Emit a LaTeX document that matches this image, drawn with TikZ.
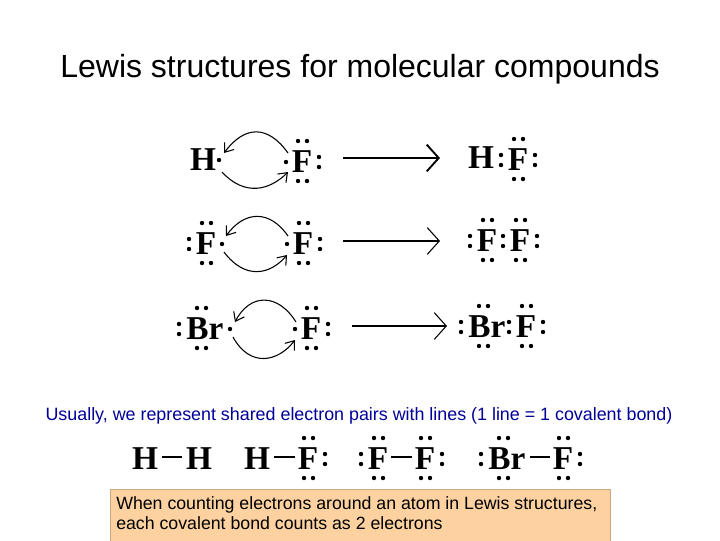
\documentclass[tikz,border=0pt]{standalone}
\usepackage{fontspec}
\setmainfont{Liberation Sans}
\newfontfamily\serifb{Liberation Serif}
\usetikzlibrary{arrows.meta}
\newcommand{\dt}[3]{\fill ([shift={(#2,#3)}]#1.center) circle[radius=2.2];}
\newcommand{\tp}[1]{\dt{#1}{-4}{-21}\dt{#1}{5}{-21}}
\newcommand{\bt}[1]{\dt{#1}{-4}{19}\dt{#1}{5}{19}}
\newcommand{\lf}[1]{\dt{#1}{-17}{-5}\dt{#1}{-17}{5}}
\newcommand{\rt}[1]{\dt{#1}{17}{-5}\dt{#1}{17}{5}}
\newcommand{\lone}[1]{\dt{#1}{-16}{0}}
\newcommand{\rone}[1]{\dt{#1}{16}{0}}
\newcommand{\brd}[1]{\dt{#1}{-8}{-21}\dt{#1}{1}{-21}\dt{#1}{-8}{19}\dt{#1}{1}{19}\dt{#1}{-26}{-5}\dt{#1}{-26}{5}}
\begin{document}
\begin{tikzpicture}[x=0.75pt,y=-0.75pt,
  atom/.style={font=\serifb\bfseries\fontsize{25}{25}\selectfont,inner sep=0pt},
  rx/.style={-{Straight Barb[length=9,width=20]},line width=0.8},
  cv/.style={-{Straight Barb[length=6,width=9]},line width=0.8},
  bond/.style={line width=1.2}]
\useasboundingbox (0,0) rectangle (720,540);
\fill[white] (0,0) rectangle (720,540);
\node[font=\fontsize{24}{24}\selectfont] (title) at (360,69) {Lewis structures for molecular compounds};
% row 1
\node[atom] (h1) at (203,160) {H}; \rone{h1}
\node[atom] (f1) at (302,162) {F}; \tp{f1}\bt{f1}\rt{f1}\lone{f1}
\draw[cv] (288,153) .. controls (268,125) and (245,125) .. (224,153);
\draw[cv] (222,172) .. controls (245,197) and (270,190) .. (288,172);
\coordinate (a1s) at (343,158); \coordinate (a1e) at (440,158);
\draw[rx,line width=1.4] (a1s) -- (a1e);
\node[atom] (ph1) at (481,158) {H};
\node[atom] (pf1) at (518,160) {F}; \tp{pf1}\bt{pf1}\rt{pf1}\lf{pf1}
% row 2
\node[atom] (f2a) at (206,244) {F}; \tp{f2a}\bt{f2a}\lf{f2a}\rone{f2a}
\node[atom] (f2b) at (303,244) {F}; \tp{f2b}\bt{f2b}\rt{f2b}\lone{f2b}
\draw[cv] (288,236) .. controls (270,210) and (245,210) .. (226,236);
\draw[cv] (224,252) .. controls (245,280) and (270,275) .. (287,255);
\coordinate (a2s) at (343,241); \coordinate (a2e) at (440,241);
\draw[rx] (a2s) -- (a2e);
\node[atom] (pf2a) at (487,241) {F}; \tp{pf2a}\bt{pf2a}\lf{pf2a}
\node[atom] (pf2b) at (520,241) {F}; \tp{pf2b}\bt{pf2b}\rt{pf2b}\lf{pf2b}
% row 3
\node[atom] (br3) at (205,329) {Br}; \brd{br3}\dt{br3}{25}{0}
\node[atom] (f3) at (311,329) {F}; \tp{f3}\bt{f3}\rt{f3}\lone{f3}
\draw[cv] (296,322) .. controls (278,293) and (250,293) .. (235,322);
\draw[cv] (233,337) .. controls (250,368) and (278,362) .. (295,340);
\coordinate (a3s) at (352,326); \coordinate (a3e) at (447,326);
\draw[rx] (a3s) -- (a3e);
\node[atom] (pbr3) at (487,327) {Br}; \brd{pbr3}
\node[atom] (pf3) at (526,327) {F}; \tp{pf3}\bt{pf3}\rt{pf3}\lf{pf3}
% note
\node[font=\fontsize{13.4}{13.4}\selectfont,text={rgb,255:red,0;green,0;blue,153}] (note) at (359,416) {Usually, we represent shared electron pairs with lines (1 line = 1 covalent bond)};
% bottom row
\node[atom] (b1) at (145,459) {H}; \node[atom] (b2) at (199,459) {H};
\draw[bond] (b1.east) ++(4,-2) -- ([shift={(-4,-2)}]b2.west);
\node[atom] (b3) at (257,459) {H}; \node[atom] (b4) at (308,459) {F}; \tp{b4}\bt{b4}\rt{b4}
\draw[bond] (b3.east) ++(4,-2) -- ([shift={(-3,-2)}]b4.west);
\node[atom] (b5) at (378,459) {F}; \tp{b5}\bt{b5}\lf{b5}
\node[atom] (b6) at (425,459) {F}; \tp{b6}\bt{b6}\rt{b6}
\draw[bond] (b5.east) ++(3,-2) -- ([shift={(-3,-2)}]b6.west);
\node[atom] (b7) at (507,459) {Br}; \brd{b7}
\node[atom] (b8) at (563,459) {F}; \tp{b8}\bt{b8}\rt{b8}
\draw[bond] (b7.east) ++(4,-2) -- ([shift={(-3,-2)}]b8.west);
% box
\node[draw={rgb,255:red,200;green,170;blue,130},fill={rgb,255:red,253;green,210;blue,160},minimum width=500*0.75pt,minimum height=52*0.75pt,anchor=north west,inner sep=0pt] (box) at (110,489) {};
\node[anchor=north west,align=left,font=\fontsize{13.3}{15.5}\selectfont,inner sep=0pt] (boxt) at (116,496) {When counting electrons around an atom in Lewis structures,\\each covalent bond counts as 2 electrons};
\end{tikzpicture}
\end{document}
